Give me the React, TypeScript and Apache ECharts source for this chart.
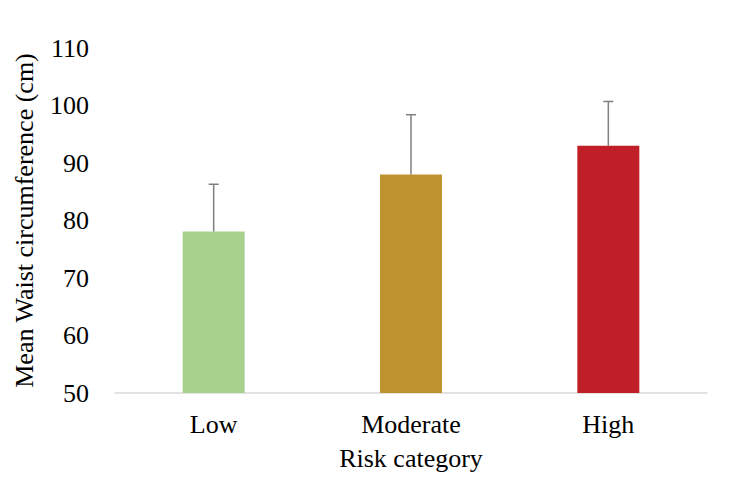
import React, { useEffect, useRef } from "react";
import * as echarts from "echarts";

const categories = ["Low", "Moderate", "High"];
const means = [78.1, 88.0, 93.0];
const upperErrors = [86.3, 98.4, 100.7];
const barColors = ["#A9D18E", "#BF9230", "#C01F27"];
const yTicks = { min: 50, max: 110, interval: 10 };

export default function App() {
  const ref = useRef<HTMLDivElement>(null);
  useEffect(() => {
    if (!ref.current) return;
    const chart = echarts.init(ref.current, undefined, { renderer: "svg" });
    const font = "'Liberation Serif', 'Times New Roman', serif";
    chart.setOption({
      animation: false,
      grid: { left: 115, right: 43, top: 48, bottom: 100 },
      xAxis: {
        type: "category",
        data: categories,
        axisLine: { lineStyle: { color: "#D9D9D9", width: 1.5 } },
        axisTick: { show: false },
        axisLabel: { color: "#000", fontSize: 26, fontFamily: font, margin: 18 },
        name: "Risk category",
        nameLocation: "middle",
        nameGap: 52,
        nameTextStyle: { color: "#000", fontSize: 26, fontFamily: font },
      },
      yAxis: {
        type: "value",
        min: yTicks.min,
        max: yTicks.max,
        interval: yTicks.interval,
        axisLine: { show: false },
        axisTick: { show: false },
        splitLine: { show: false },
        axisLabel: { color: "#000", fontSize: 26, fontFamily: font, margin: 26 },
        name: "Mean Waist circumference (cm)",
        nameLocation: "middle",
        nameGap: 78,
        nameTextStyle: { color: "#000", fontSize: 26, fontFamily: font },
      },
      series: [
        {
          type: "bar",
          barWidth: 62,
          data: means.map((v, i) => ({ value: v, itemStyle: { color: barColors[i] } })),
          z: 2,
        },
        {
          type: "custom",
          z: 3,
          data: means.map((v, i) => [i, v, upperErrors[i]]),
          renderItem: (params: any, api: any) => {
            const x = api.value(0);
            const low = api.coord([x, api.value(1)]);
            const high = api.coord([x, api.value(2)]);
            const capHalf = 5;
            const style = { stroke: "#7F7F7F", lineWidth: 1.5 };
            return {
              type: "group",
              children: [
                { type: "line", shape: { x1: low[0], y1: low[1], x2: high[0], y2: high[1] }, style },
                { type: "line", shape: { x1: high[0] - capHalf, y1: high[1], x2: high[0] + capHalf, y2: high[1] }, style },
              ],
            };
          },
        },
      ],
    });
    return () => chart.dispose();
  }, []);
  return (
    <div
      ref={ref}
      style={{ width: 750, height: 493, position: "fixed", left: 0, top: 0, background: "#fff" }}
    />
  );
}
